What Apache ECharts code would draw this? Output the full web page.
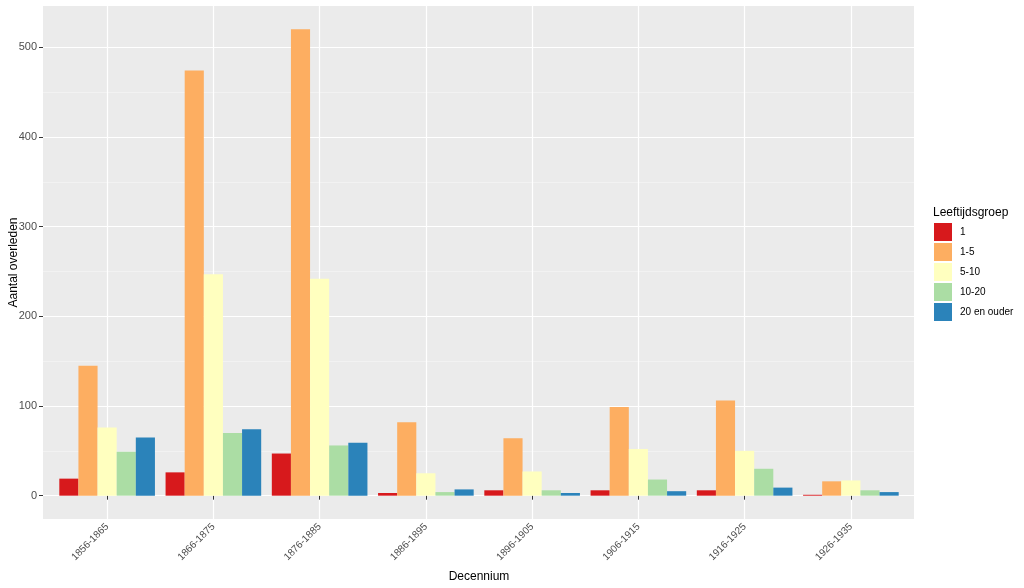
<!DOCTYPE html>
<html>
<head>
<meta charset="utf-8">
<script src="https://cdn.jsdelivr.net/npm/echarts@6/dist/echarts.min.js"></script>
<style>
  html, body { margin: 0; padding: 0; background: #fff; }
  #main { width: 1024px; height: 588px; }
</style>
</head>
<body>
<div id="main"></div>
<script>
var categories = ['1856-1865', '1866-1875', '1876-1885', '1886-1895', '1896-1905', '1906-1915', '1916-1925', '1926-1935'];
var groups = ['1', '1-5', '5-10', '10-20', '20 en ouder'];
var colors = ['#D7191C', '#FDAE61', '#FFFFBF', '#ABDDA4', '#2B83BA'];
var val1 = [19, 26, 47, 3, 6, 6, 6, 1];
var val1to5 = [145, 474, 520, 82, 64, 99, 106, 16];
var val5to10 = [76, 247, 242, 25, 27, 52, 50, 17];
var val10to20 = [49, 70, 56, 4, 6, 18, 30, 6];
var val20plus = [65, 74, 59, 7, 3, 5, 9, 4];
var majorTicks = [0, 100, 200, 300, 400, 500];
var minorTicks = [50, 150, 250, 350, 450];

var chartDom = document.getElementById('main');
var myChart = echarts.init(chartDom);
var font = 'Liberation Sans, Arial, sans-serif';
var allValues = [val1, val1to5, val5to10, val10to20, val20plus];

// ggplot pads a discrete axis by 0.6 of a category on each side,
// so the bars sit on an inner grid inside the grey panel
var series = groups.map(function (g, i) {
    return {
        name: g,
        type: 'bar',
        xAxisIndex: 1,
        yAxisIndex: 2,
        data: allValues[i],
        barGap: '0%',
        barCategoryGap: '10%',
        itemStyle: { color: colors[i] },
        z: 3
    };
});

var option = {
    animation: false,
    textStyle: { fontFamily: font },
    title: {
        text: 'Leeftijdsgroep',
        left: 933,
        top: 207,
        padding: 0,
        textStyle: { fontSize: 12, fontWeight: 'normal', color: '#000', fontFamily: font }
    },
    legend: {
        orient: 'vertical',
        left: 934,
        top: 223,
        padding: 0,
        itemWidth: 18,
        itemHeight: 18,
        itemGap: 2,
        icon: 'rect',
        data: groups,
        textStyle: { fontSize: 10, color: '#000', fontFamily: font, padding: [0, 0, 0, 3] }
    },
    grid: [
        {
            left: 43,
            top: 6,
            width: 871,
            height: 513,
            outerBoundsMode: 'none',
            containLabel: false,
            show: true,
            backgroundColor: '#EBEBEB',
            borderWidth: 0
        },
        {
            left: 54,
            top: 6,
            width: 850,
            height: 513,
            outerBoundsMode: 'none',
            containLabel: false,
            show: false
        }
    ],
    xAxis: [
        {
            type: 'value',
            gridIndex: 0,
            show: false
        },
        {
            type: 'category',
            gridIndex: 1,
            data: categories,
            name: 'Decennium',
            nameLocation: 'middle',
            nameGap: 52,
            nameMoveOverlap: false,
            nameTextStyle: { fontSize: 12, color: '#000' },
            axisLine: { show: false },
            axisTick: { show: true, alignWithLabel: true, length: 4, lineStyle: { color: '#333' } },
            splitLine: { show: true, alignWithLabel: true, lineStyle: { color: '#fff', width: 1.2 } },
            axisLabel: { rotate: 45, fontSize: 10, color: '#4D4D4D', margin: 6 }
        }
    ],
    yAxis: [
        {
            type: 'value',
            gridIndex: 0,
            min: -26,
            max: 546,
            name: 'Aantal overleden',
            nameLocation: 'middle',
            nameGap: 23,
            nameMoveOverlap: false,
            nameTextStyle: { fontSize: 12, color: '#000' },
            axisLine: { show: false },
            axisTick: { show: true, length: 4, customValues: majorTicks, lineStyle: { color: '#333' } },
            axisLabel: { fontSize: 11, color: '#4D4D4D', margin: 6, customValues: majorTicks },
            splitLine: { show: true, lineStyle: { color: '#fff', width: 1.2 } }
        },
        {
            type: 'value',
            gridIndex: 0,
            min: -26,
            max: 546,
            position: 'left',
            axisLine: { show: false },
            axisTick: { show: false, customValues: minorTicks },
            axisLabel: { show: false, customValues: minorTicks },
            splitLine: { show: true, lineStyle: { color: '#F7F7F7', width: 0.6 } }
        },
        {
            type: 'value',
            gridIndex: 1,
            min: -26,
            max: 546,
            show: false,
            splitLine: { show: false }
        }
    ],
    series: series
};
myChart.setOption(option);
</script>
</body>
</html>
